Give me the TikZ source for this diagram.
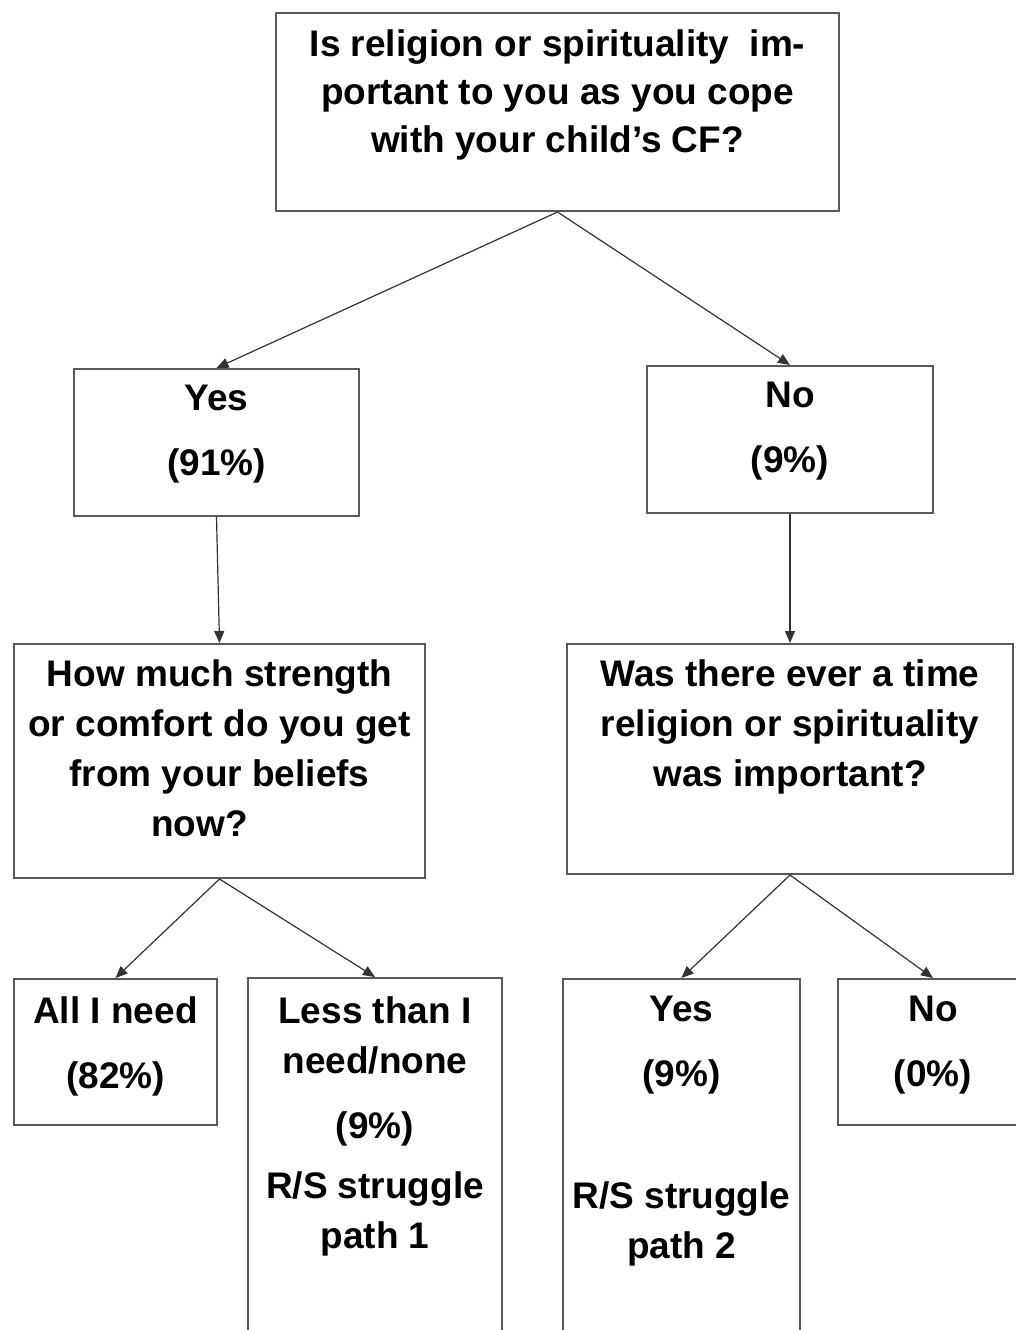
\documentclass[tikz,border=0pt]{standalone}
\usepackage{fontspec}
\setmainfont{Liberation Sans}
\usetikzlibrary{positioning, arrows.meta}
\tikzstyle{box} = [rectangle, draw=black!65, line width=1pt, inner sep=0pt, anchor=north west]
\tikzstyle{boxtext} = [align=center, inner sep=0pt, font=\fontsize{18.5}{25}\selectfont\bfseries]
\tikzstyle{arrow} = [draw=black!80, line width=0.6pt, -{Triangle[length=6pt,width=5pt]}]

\begin{document}
\begin{tikzpicture}[x=0.5pt, y=-0.5pt]
        \useasboundingbox (0,0) rectangle (1016,1330);

        % boxes
        \node[box, minimum width=281.5pt, minimum height=99pt] (quest) at (275,12) {};
        \node[box, minimum width=142.5pt, minimum height=73.5pt] (yes) at (73,368) {};
        \node[box, minimum width=143pt, minimum height=73.5pt] (no) at (646,365) {};
        \node[box, minimum width=205.5pt, minimum height=117pt] (comfort) at (13,643) {};
        \node[box, minimum width=223pt, minimum height=115pt] (ever) at (566,643) {};
        \node[box, minimum width=101.5pt, minimum height=73pt] (allneed) at (13,978) {};
        \node[box, minimum width=127pt, minimum height=180pt] (lessneed) at (247,977) {};
        \node[box, minimum width=118.5pt, minimum height=180pt] (everyes) at (562,978) {};
        \node[box, minimum width=95pt, minimum height=73pt] (everno) at (837,978) {};

        % texts
        \node[boxtext, below=8.5pt of quest.north] (questtext) {Is religion or spirituality\ \ im-\\[-1pt]portant to you as you cope\\[-1pt]with your child’s CF?};
        \node[boxtext, below=8.5pt of yes.north] (yestext) {Yes\\[7.5pt](91\%)};
        \node[boxtext, below=8.5pt of no.north] (notext) {No\\[7.5pt](9\%)};
        \node[boxtext, below=8pt of comfort.north] (comforttext) {How much strength\\or comfort do you get\\from your beliefs\\now?\hspace*{20pt}};
        \node[boxtext, below=8pt of ever.north] (evertext) {Was there ever a time\\religion or spirituality\\was important?};
        \node[boxtext, below=9pt of allneed.north] (allneedtext) {All I need\\[7.5pt](82\%)};
        \node[boxtext, below=9.5pt of lessneed.north] (lessneedtext) {Less than I\\need/none\\[7.5pt](9\%)\\[5pt]R/S struggle\\path 1};
        \node[boxtext, below=9pt of everyes.north] (everyestext) {Yes\\[7.5pt](9\%)\\[36pt]R/S struggle\\path 2};
        \node[boxtext, below=9pt of everno.north] (evernotext) {No\\[7.5pt](0\%)};

        \draw[arrow] (quest.south) -- (yes.north);
        \draw[arrow] (quest.south) -- (no.north);
        \draw[arrow] (yes.south) -- (comfort.north);
        \draw[arrow] (no.south) -- (ever.north);
        \draw[arrow] (comfort.south) -- (allneed.north);
        \draw[arrow] (comfort.south) -- (lessneed.north);
        \draw[arrow] (ever.south) -- (everyes.north);
        \draw[arrow] (ever.south) -- (everno.north);
    \end{tikzpicture}
\end{document}
